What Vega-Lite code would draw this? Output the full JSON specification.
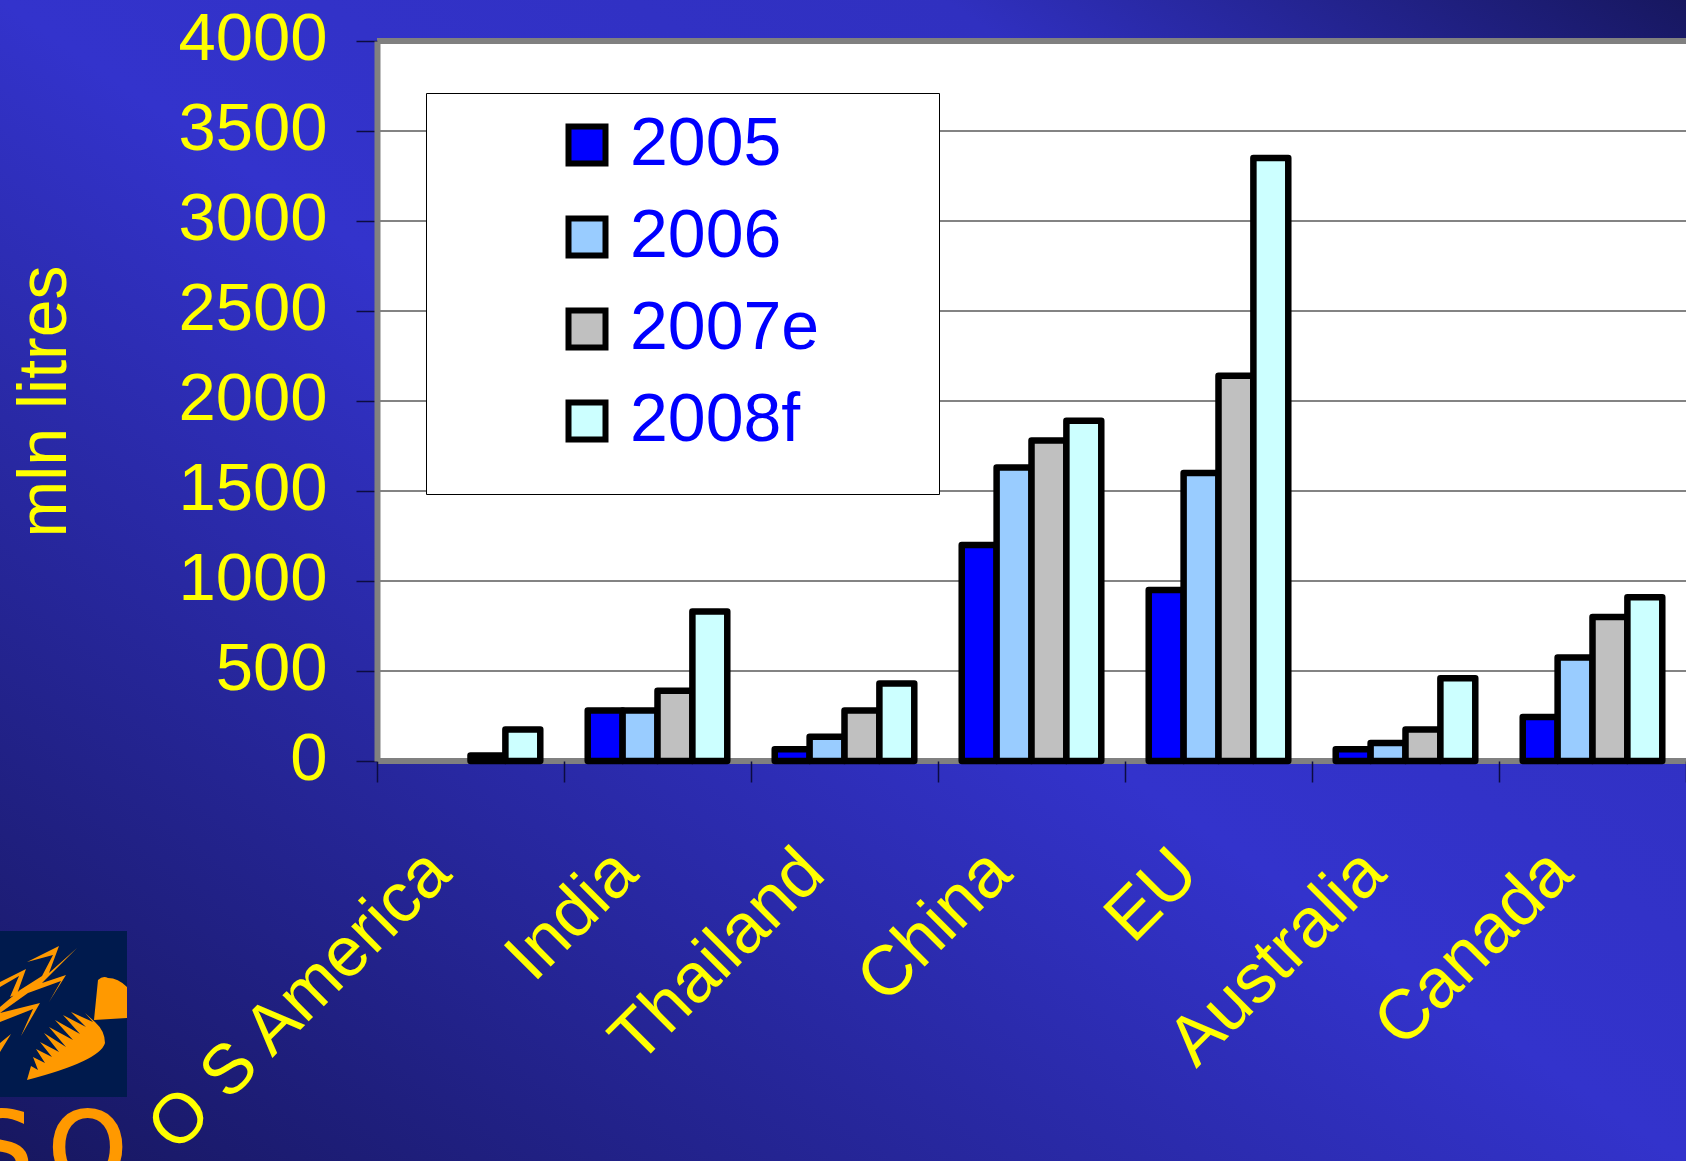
{
  "$schema": "https://vega.github.io/schema/vega-lite/v6.json",
  "width": 1686,
  "height": 1161,
  "padding": 0,
  "autosize": {"type": "none"},
  "background": "#2a2aa8",
  "view": {
    "stroke": null,
    "fill": {
      "gradient": "linear",
      "x1": 0, "y1": 1, "x2": 1, "y2": 0,
      "stops": [
        {"offset": 0, "color": "#17175f"},
        {"offset": 0.5, "color": "#3333cc"},
        {"offset": 0.78, "color": "#3030c0"},
        {"offset": 1, "color": "#17175f"}
      ]
    }
  },
  "datasets": {
    "production": [
      {"country": "O S America", "year": "2007e", "litres": 30},
      {"country": "O S America", "year": "2008f", "litres": 175},
      {"country": "India", "year": "2005", "litres": 280},
      {"country": "India", "year": "2006", "litres": 280},
      {"country": "India", "year": "2007e", "litres": 390},
      {"country": "India", "year": "2008f", "litres": 830},
      {"country": "Thailand", "year": "2005", "litres": 65},
      {"country": "Thailand", "year": "2006", "litres": 135},
      {"country": "Thailand", "year": "2007e", "litres": 280},
      {"country": "Thailand", "year": "2008f", "litres": 430},
      {"country": "China", "year": "2005", "litres": 1200},
      {"country": "China", "year": "2006", "litres": 1630},
      {"country": "China", "year": "2007e", "litres": 1780},
      {"country": "China", "year": "2008f", "litres": 1890},
      {"country": "EU", "year": "2005", "litres": 950},
      {"country": "EU", "year": "2006", "litres": 1600},
      {"country": "EU", "year": "2007e", "litres": 2140},
      {"country": "EU", "year": "2008f", "litres": 3350},
      {"country": "Australia", "year": "2005", "litres": 65},
      {"country": "Australia", "year": "2006", "litres": 100},
      {"country": "Australia", "year": "2007e", "litres": 175},
      {"country": "Australia", "year": "2008f", "litres": 460},
      {"country": "Canada", "year": "2005", "litres": 245},
      {"country": "Canada", "year": "2006", "litres": 575},
      {"country": "Canada", "year": "2007e", "litres": 800},
      {"country": "Canada", "year": "2008f", "litres": 910}
    ],
    "panel": [
      {"country": "O S America", "top": 4000, "levels": [500, 1000, 1500, 2000, 2500, 3000, 3500], "edges": [0, 4000]},
      {"country": "India", "top": 4000, "levels": [500, 1000, 1500, 2000, 2500, 3000, 3500], "edges": [0, 4000]},
      {"country": "Thailand", "top": 4000, "levels": [500, 1000, 1500, 2000, 2500, 3000, 3500], "edges": [0, 4000]},
      {"country": "China", "top": 4000, "levels": [500, 1000, 1500, 2000, 2500, 3000, 3500], "edges": [0, 4000]},
      {"country": "EU", "top": 4000, "levels": [500, 1000, 1500, 2000, 2500, 3000, 3500], "edges": [0, 4000]},
      {"country": "Australia", "top": 4000, "levels": [500, 1000, 1500, 2000, 2500, 3000, 3500], "edges": [0, 4000]},
      {"country": "Canada", "top": 4000, "levels": [500, 1000, 1500, 2000, 2500, 3000, 3500], "edges": [0, 4000]}
    ]
  },
  "resolve": {"scale": {"x": "independent", "y": "independent"}},
  "layer": [
    {
      "encoding": {
        "x": {
          "field": "country",
          "type": "nominal",
          "sort": null,
          "scale": {
            "domain": ["O S America", "India", "Thailand", "China", "EU", "Australia", "Canada"],
            "range": [377, 1686],
            "paddingInner": 0,
            "paddingOuter": 0
          },
          "axis": {
            "title": null,
            "offset": -400,
            "zindex": 1,
            "domain": false,
            "grid": false,
            "tickBand": "extent",
            "tickColor": "#0c0c40",
            "tickSize": 21,
            "tickWidth": 1.5,
            "labelAngle": -45,
            "labelAlign": "right",
            "labelBaseline": "middle",
            "labelPadding": 79,
            "labelOffset": -32,
            "labelFont": "Liberation Sans",
            "labelFontSize": 70,
            "labelColor": "#ffff00",
            "labelOverlap": false,
            "labelBound": false,
            "labelFlush": false,
            "labelLimit": 800
          }
        }
      },
      "layer": [
        {
          "data": {"name": "panel"},
          "mark": {"type": "bar", "fill": "#ffffff", "stroke": null, "width": {"band": 1}},
          "encoding": {
            "y": {
              "field": "top",
              "type": "quantitative",
              "scale": {"domain": [0, 4000], "range": [761, 41], "nice": false},
              "axis": {
                "title": "mln litres",
                "titleFont": "Liberation Sans",
                "titleFontSize": 68,
                "titleFontWeight": "normal",
                "titleColor": "#ffff00",
                "titleX": -298,
                "offset": -377,
                "zindex": 1,
                "grid": false,
                "values": [0, 500, 1000, 1500, 2000, 2500, 3000, 3500, 4000],
                "format": "d",
                "domainColor": "#808080",
                "domainWidth": 6,
                "tickColor": "#0c0c40",
                "tickSize": 21,
                "tickWidth": 1.5,
                "labelPadding": 29,
                "labelOffset": -2,
                "labelFont": "Liberation Sans",
                "labelFontSize": 67,
                "labelColor": "#ffff00",
                "labelOverlap": false,
                "labelBound": false,
                "labelFlush": false
              }
            }
          }
        },
        {
          "data": {"name": "panel"},
          "transform": [{"flatten": ["levels"]}],
          "mark": {"type": "tick", "orient": "horizontal", "width": {"band": 1}, "color": "#5a5a5a", "thickness": 1.5, "opacity": 1},
          "encoding": {"y": {"field": "levels", "type": "quantitative"}}
        },
        {
          "data": {"name": "panel"},
          "transform": [{"flatten": ["edges"]}],
          "mark": {"type": "tick", "orient": "horizontal", "width": {"band": 1}, "color": "#808080", "thickness": 6, "opacity": 1},
          "encoding": {"y": {"field": "edges", "type": "quantitative"}}
        },
        {
          "data": {"name": "production"},
          "mark": {"type": "bar", "stroke": "#000000", "strokeWidth": 6.5, "strokeJoin": "round", "width": {"band": 1}},
          "encoding": {
            "xOffset": {
              "field": "year",
              "type": "nominal",
              "scale": {"domain": ["2005", "2006", "2007e", "2008f"], "paddingInner": 0, "paddingOuter": 0.68}
            },
            "y": {"field": "litres", "type": "quantitative"},
            "fill": {
              "field": "year",
              "type": "nominal",
              "scale": {
                "domain": ["2005", "2006", "2007e", "2008f"],
                "range": ["#0000ff", "#99ccff", "#c0c0c0", "#ccffff"]
              },
              "legend": {
                "title": "\u00a0",
                "titleOrient": "bottom",
                "titleFontSize": 16,
                "orient": "none",
                "legendX": 426,
                "legendY": 93,
                "fillColor": "#ffffff",
                "strokeColor": "#000000",
                "padding": 6,
                "symbolType": "square",
                "symbolSize": 1369,
                "symbolStrokeWidth": 6,
                "symbolStrokeColor": "#000000",
                "symbolOffset": 121,
                "clipHeight": 92,
                "rowPadding": 0,
                "labelOffset": 9,
                "labelFont": "Liberation Sans",
                "labelFontSize": 68,
                "labelColor": "#0000ff",
                "labelLimit": 800,
                "labelExpr": "datum.label + '\u00a0\u00a0\u00a0\u00a0\u00a0\u00a0\u200b'"
              }
            }
          }
        }
      ]
    },
    {
      "data": {"values": [
        {"part": "emblem", "lx": 0, "ly": 0, "lx2": 127, "ly2": 166},
        {"part": "S", "lx": 33, "ly": 174},
        {"part": "O", "lx": 127, "ly": 174}
      ]},
      "layer": [
        {
          "transform": [{"filter": "datum.part === 'emblem'"}],
          "mark": {"type": "rect", "color": "#001a4d"},
          "encoding": {
            "x": {"field": "lx", "type": "quantitative", "scale": {"domain": [0, 127], "range": [0, 127]}, "axis": null},
            "x2": {"field": "lx2"},
            "y": {"field": "ly", "type": "quantitative", "scale": {"domain": [0, 230], "range": [931, 1161]}, "axis": null},
            "y2": {"field": "ly2"}
          }
        },
        {
          "transform": [{"filter": "datum.part === 'emblem'"}],
          "mark": {
            "type": "point",
            "filled": true,
            "fill": "#ff9900",
            "stroke": null,
            "opacity": 1,
            "size": 4,
            "shape": "M27,149 L31,135 L38,139 L33,126 L45,132 L36,118 L52,126 L40,111 L59,121 L44,102 L66,116 L49,96 L73,109 L55,89 L80,103 L63,84 L86,96 L71,81 L93,91 L85,82 L95,91 Q105,100 105,112 Q100,130 27,149 Z M94,89 L98,49 Q103,44 108,47 Q118,47 127,56 L127,87 Z M27,31 L59,15 L49,42 L77,17 L42,52 L66,44 L49,71 L61,50 L28,62 L0,82 L0,76 L20,59 L42,45 L53,24 Z M0,51 L26,38 L17,63 L10,66 L19,45 L0,56 Z M0,82 L40,72 L21,105 L33,78 L0,91 Z M0,112 L11,103 L0,121 Z"
          },
          "encoding": {
            "x": {"field": "lx", "type": "quantitative", "scale": {"domain": [0, 127], "range": [0, 127]}, "axis": null},
            "y": {"field": "ly", "type": "quantitative", "scale": {"domain": [0, 230], "range": [931, 1161]}, "axis": null}
          }
        },
        {
          "transform": [{"filter": "datum.part !== 'emblem'"}],
          "mark": {"type": "text", "align": "right", "baseline": "top", "font": "DejaVu Sans", "fontSize": 100, "color": "#ff9900", "stroke": "#ff9900", "strokeWidth": 2},
          "encoding": {
            "text": {"field": "part"},
            "x": {"field": "lx", "type": "quantitative", "scale": {"domain": [0, 127], "range": [0, 127]}, "axis": null},
            "y": {"field": "ly", "type": "quantitative", "scale": {"domain": [0, 230], "range": [931, 1161]}, "axis": null}
          }
        }
      ]
    }
  ]
}
